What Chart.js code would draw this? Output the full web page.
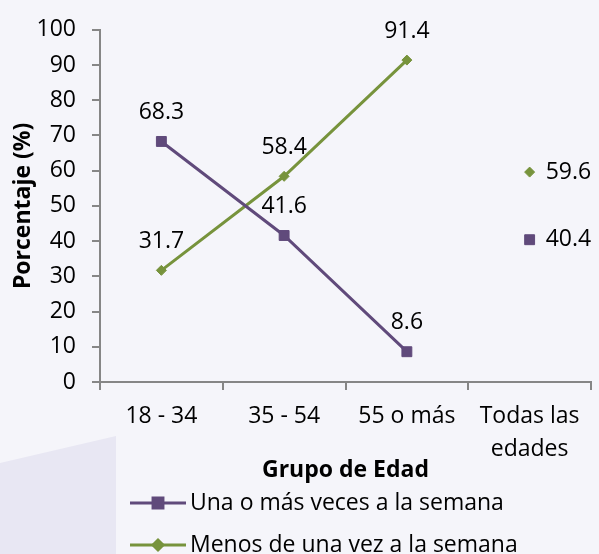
<!DOCTYPE html>
<html>
<head>
<meta charset="utf-8">
<script src="https://cdn.jsdelivr.net/npm/chart.js@4/dist/chart.umd.min.js"></script>
<style>
  html, body { margin: 0; padding: 0; background: #f5f5fa; }
  canvas { display: block; }
</style>
</head>
<body>
<canvas id="frecuencia" width="599" height="554"></canvas>
<script>
// grupos de edad y porcentajes
var grupos = ["18 - 34", "35 - 54", "55 o más", ["Todas las", "edades"]];
var unaOMas = [68.3, 41.6, 8.6, 40.4];
var menosDeUna = [31.7, 58.4, 91.4, 59.6];
var yTicks = [0, 10, 20, 30, 40, 50, 60, 70, 80, 90, 100];

var morado = "#604a7b";
var verde = "#77933c";
var fuente = "'Open Sans', sans-serif";

// fondo con el trapecio lila de la esquina
var fondo = {
  id: "fondo",
  beforeDraw: function (chart) {
    var ctx = chart.ctx;
    ctx.save();
    ctx.fillStyle = "#f5f5fa";
    ctx.fillRect(0, 0, chart.width, chart.height);
    ctx.fillStyle = "#e8e7f3";
    ctx.beginPath();
    ctx.moveTo(0, 463);
    ctx.lineTo(116, 436);
    ctx.lineTo(116, chart.height);
    ctx.lineTo(0, chart.height);
    ctx.closePath();
    ctx.fill();
    ctx.restore();
  },
};

// etiquetas de valores
var etiquetas = {
  id: "etiquetas",
  afterDatasetsDraw: function (chart) {
    var ctx = chart.ctx;
    ctx.save();
    ctx.font = "23px " + fuente;
    ctx.fillStyle = "#000";
    ctx.textBaseline = "middle";
    chart.data.datasets.forEach(function (ds, i) {
      chart.getDatasetMeta(i).data.forEach(function (pt, j) {
        var txt = ds.data[j].toFixed(1);
        if (j === 3) {
          ctx.textAlign = "left";
          ctx.fillText(txt, pt.x + 16, pt.y);
        } else {
          ctx.textAlign = "center";
          ctx.fillText(txt, pt.x, pt.y - 29);
        }
      });
    });
    ctx.restore();
  },
};

// leyenda con linea y marcador, alineada a la izquierda
var leyenda = {
  id: "leyenda",
  afterDraw: function (chart) {
    var ctx = chart.ctx;
    var filas = [503, 545];
    ctx.save();
    chart.data.datasets.forEach(function (ds, i) {
      var y = filas[i];
      ctx.strokeStyle = ds.borderColor;
      ctx.lineWidth = 3;
      ctx.beginPath();
      ctx.moveTo(130, y);
      ctx.lineTo(186, y);
      ctx.stroke();
      Chart.helpers.drawPoint(ctx, {
        pointStyle: ds.pointStyle,
        radius: ds.pointRadius,
        borderWidth: 1,
      }, 158, y);
      ctx.fillStyle = ds.borderColor;
      ctx.fill();
      ctx.fillStyle = "#000";
      ctx.font = "23px " + fuente;
      ctx.textAlign = "left";
      ctx.textBaseline = "middle";
      ctx.fillText(ds.label, 190, y);
    });
    ctx.restore();
  },
};

function sinUltimo(color) {
  return function (c) {
    return c.p1DataIndex === 3 ? "rgba(0,0,0,0)" : color;
  };
}

new Chart("frecuencia", {
  type: "line",
  data: {
    labels: grupos,
    datasets: [
      {
        label: "Una o más veces a la semana",
        data: unaOMas,
        borderColor: morado,
        backgroundColor: morado,
        borderWidth: 3,
        pointStyle: "rect",
        pointRadius: 7,
        pointBorderWidth: 1,
        segment: { borderColor: sinUltimo(morado) },
      },
      {
        label: "Menos de una vez a la semana",
        data: menosDeUna,
        borderColor: verde,
        backgroundColor: verde,
        borderWidth: 3,
        pointStyle: "rectRot",
        pointRadius: 5,
        pointBorderWidth: 1,
        segment: { borderColor: sinUltimo(verde) },
      },
    ],
  },
  options: {
    responsive: false,
    animation: false,
    devicePixelRatio: 1,
    layout: { padding: { left: 0, right: 7, top: 24, bottom: 70 } },
    plugins: {
      legend: { display: false },
      tooltip: { enabled: false },
    },
    scales: {
      x: {
        offset: true,
        afterFit: function (s) { s.height = 102; },
        grid: {
          offset: true,
          drawOnChartArea: false,
          tickLength: 8,
          color: "#868686",
          lineWidth: 2,
        },
        border: { color: "#868686", width: 2 },
        ticks: {
          color: "#000",
          padding: 10,
          maxRotation: 0,
          font: { family: fuente, size: 23, lineHeight: 1.42 },
        },
        title: {
          display: true,
          text: "Grupo de Edad",
          color: "#000",
          padding: 0,
          font: { family: fuente, size: 23, weight: "bold" },
        },
      },
      y: {
        min: 0,
        max: 100,
        afterFit: function (s) { s.width = 100; },
        afterBuildTicks: function (s) {
          s.ticks = yTicks.map(function (v) { return { value: v }; });
        },
        grid: {
          drawOnChartArea: false,
          tickLength: 8,
          color: "#868686",
          lineWidth: 2,
        },
        border: { color: "#868686", width: 2 },
        ticks: {
          color: "#000",
          padding: 16,
          font: { family: fuente, size: 23 },
        },
        title: {
          display: true,
          text: "Porcentaje (%)",
          color: "#000",
          padding: { top: 10, bottom: 0 },
          font: { family: fuente, size: 23, weight: "bold" },
        },
      },
    },
  },
  plugins: [fondo, etiquetas, leyenda],
});
</script>
</body>
</html>
